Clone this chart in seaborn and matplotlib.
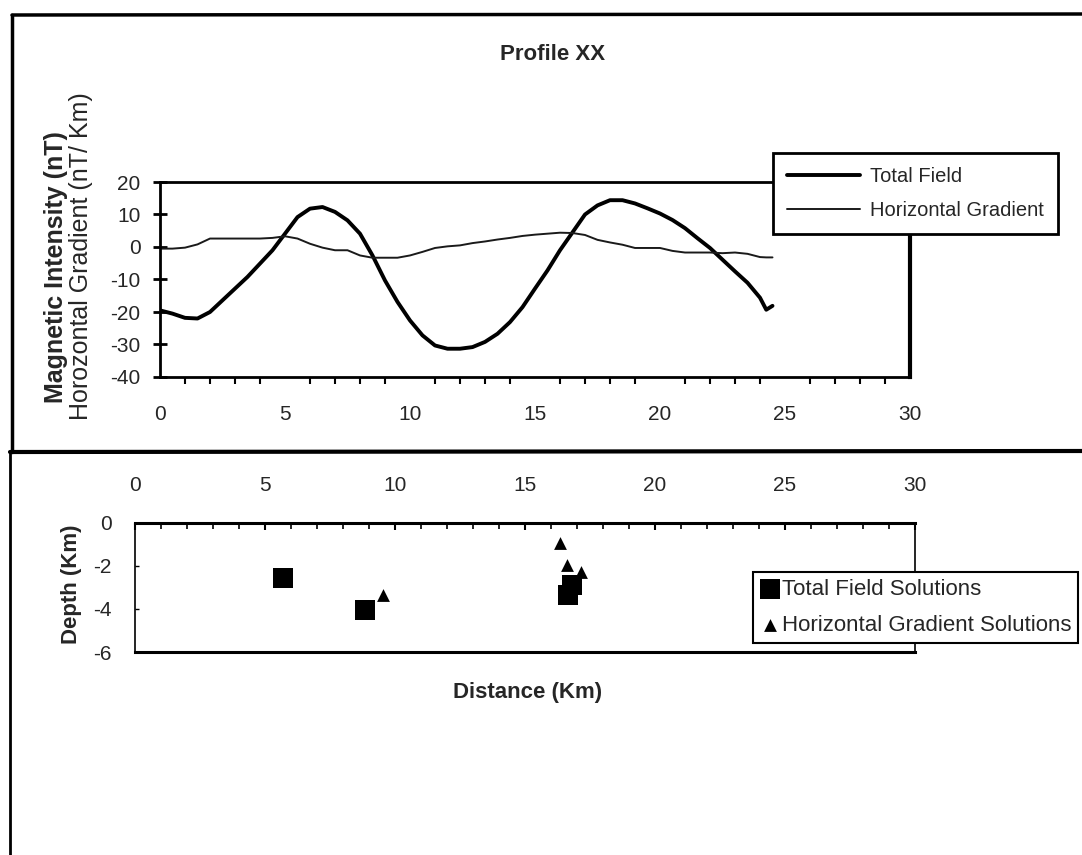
import numpy as np
import pandas as pd
import matplotlib
matplotlib.use("Agg")
import matplotlib.pyplot as plt
from matplotlib.lines import Line2D
from matplotlib.ticker import MultipleLocator
import seaborn as sns

# ---------------- data ----------------
distance = [0, 0.5, 1, 1.5, 2, 2.5, 3, 3.5, 4, 4.5, 5, 5.5, 6, 6.5, 7, 7.5, 8, 8.5,
            9, 9.5, 10, 10.5, 11, 11.5, 12, 12.5, 13, 13.5, 14, 14.5, 15, 15.5,
            16, 16.5, 17, 17.5, 18, 18.5, 19, 19.5, 20, 20.5, 21, 21.5, 22, 22.5,
            23, 23.5, 24, 24.25, 24.5]
total_field = [-19.5, -20.5, -21.8, -22.0, -20.0, -16.4, -12.8, -9.2, -5.1, -1.0,
               4.1, 9.2, 11.8, 12.3, 10.8, 8.2, 4.1, -2.6, -10.3, -16.9, -22.6,
               -27.2, -30.3, -31.3, -31.3, -30.8, -29.2, -26.7, -23.1, -18.5,
               -12.8, -7.2, -1.0, 4.5, 10.0, 12.8, 14.4, 14.4, 13.4, 11.9, 10.3,
               8.3, 5.8, 2.7, -0.3, -3.9, -7.5, -11.0, -15.6, -19.3, -18.1]
horiz_gradient = [-0.5, -0.5, -0.2, 0.8, 2.6, 2.6, 2.6, 2.6, 2.6, 2.8, 3.3, 2.6,
                  1.0, -0.2, -1.0, -1.0, -2.6, -3.3, -3.3, -3.3, -2.6, -1.5, -0.3,
                  0.2, 0.5, 1.2, 1.7, 2.3, 2.8, 3.4, 3.8, 4.1, 4.4, 4.3, 3.7, 2.2,
                  1.4, 0.7, -0.3, -0.3, -0.3, -1.2, -1.7, -1.7, -1.7, -1.9, -1.7,
                  -2.1, -3.1, -3.2, -3.2]

tf_sol_x = [5.7, 8.85, 16.65, 16.8]
tf_sol_depth = [-2.55, -4.05, -3.35, -2.9]
hg_sol_x = [9.55, 16.35, 16.6, 17.15]
hg_sol_depth = [-3.35, -0.95, -1.95, -2.3]

top_xticks = [0, 5, 10, 15, 20, 25, 30]
top_yticks = [-40, -30, -20, -10, 0, 10, 20]
bot_yticks = [-6, -4, -2, 0]

# ---------------- style ----------------
sns.set_theme(style="white")
plt.rcParams['font.family'] = ['Liberation Sans', 'DejaVu Sans']
plt.rcParams['axes.unicode_minus'] = False

W, H = 1082, 855
fig = plt.figure(figsize=(W / 100, H / 100), dpi=100)
fig.patch.set_facecolor("white")

def fx(px):
    return px / W

def fy(py):
    return 1 - py / H

# ---------------- top panel ----------------
ax1 = fig.add_axes([fx(160), fy(377), fx(910) - fx(160), fy(182) - fy(377)])
df_top = pd.DataFrame({"Distance": distance, "Total Field": total_field,
                       "Horizontal Gradient": horiz_gradient})
sns.lineplot(data=df_top, x="Distance", y="Total Field", ax=ax1, color="black",
             linewidth=2.8, label="Total Field", legend=False)
sns.lineplot(data=df_top, x="Distance", y="Horizontal Gradient", ax=ax1,
             color="#1a1a1a", linewidth=1.4, label="Horizontal Gradient", legend=False)
ax1.set_xlim(0, 30)
ax1.set_ylim(-40, 20)
ax1.set_xticks(top_xticks)
ax1.set_yticks(top_yticks)
ax1.xaxis.set_minor_locator(MultipleLocator(1))
ax1.tick_params(axis="x", which="major", direction="out", length=7, width=2,
                color="black", pad=13, labelsize=15)
ax1.tick_params(axis="x", which="minor", direction="out", length=5, width=1.5,
                color="black", bottom=True)
ax1.tick_params(axis="y", which="major", direction="inout", length=10, width=2,
                color="black", pad=9, labelsize=15, left=True)
for s in ax1.spines.values():
    s.set_color("black")
    s.set_linewidth(2)
ax1.spines["right"].set_linewidth(3)
ax1.set_xlabel("")
ax1.set_ylabel("")
ax1.set_facecolor("white")

fig.text(fx(553), fy(54), "Profile XX", ha="center", va="center",
         fontsize=16, fontweight="bold")
fig.text(fx(56), fy(267), "Magnetic Intensity (nT)", rotation=90, ha="center",
         va="center", fontsize=18, fontweight="bold")
fig.text(fx(81), fy(256), "Horozontal Gradient (nT/ Km)", rotation=90, ha="center",
         va="center", fontsize=18)

h1, l1 = ax1.get_legend_handles_labels()
leg1 = fig.legend(h1, l1, loc="upper left", bbox_to_anchor=(fx(773), fy(153)),
                  bbox_transform=fig.transFigure, fontsize=14.5, frameon=True,
                  fancybox=False, borderpad=0.7, labelspacing=0.75, handlelength=3.6,
                  handletextpad=0.5, borderaxespad=0)
leg1.get_frame().set_edgecolor("black")
leg1.get_frame().set_linewidth(2)
leg1.get_frame().set_alpha(1)

# ---------------- bottom panel ----------------
ax2 = fig.add_axes([fx(135), fy(652), fx(915) - fx(135), fy(522.7) - fy(652)])
df_tf = pd.DataFrame({"Distance": tf_sol_x, "Depth": tf_sol_depth})
df_hg = pd.DataFrame({"Distance": hg_sol_x, "Depth": hg_sol_depth})
sns.scatterplot(data=df_tf, x="Distance", y="Depth", ax=ax2, marker="s", s=220,
                color="black", linewidth=0, label="Total Field Solutions", legend=False)
sns.scatterplot(data=df_hg, x="Distance", y="Depth", ax=ax2, marker="^", s=85,
                color="black", linewidth=0, label="Horizontal Gradient Solutions",
                legend=False)
ax2.set_xlim(0, 30)
ax2.set_ylim(-6, 0)
ax2.set_xticks(top_xticks)
ax2.set_yticks(bot_yticks)
ax2.xaxis.set_minor_locator(MultipleLocator(1))
ax2.xaxis.tick_top()
ax2.tick_params(axis="x", which="major", direction="in", length=5, width=1.5,
                color="black", pad=20, labelsize=15, top=True, bottom=False)
ax2.tick_params(axis="x", which="minor", direction="in", length=4, width=1.2,
                color="black", top=True, bottom=False)
ax2.tick_params(axis="y", which="major", direction="in", length=3, width=1,
                color="black", pad=17, labelsize=15, left=True)
for s in ax2.spines.values():
    s.set_color("black")
    s.set_linewidth(1.2)
ax2.spines["top"].set_linewidth(2.2)
ax2.spines["bottom"].set_linewidth(2.2)
ax2.set_xlabel("")
ax2.set_ylabel("")
ax2.set_facecolor("white")

fig.text(fx(72), fy(584), "Depth (Km)", rotation=90, ha="center", va="center",
         fontsize=16, fontweight="bold")
fig.text(fx(528), fy(692), "Distance (Km)", ha="center", va="center",
         fontsize=16, fontweight="bold")

h2, l2 = ax2.get_legend_handles_labels()
leg2 = fig.legend(h2, l2, loc="upper left", bbox_to_anchor=(fx(753), fy(572)),
                  bbox_transform=fig.transFigure, fontsize=16, frameon=True,
                  fancybox=False, borderpad=0.3, labelspacing=0.7, handlelength=0.9,
                  handletextpad=0.1, borderaxespad=0, markerscale=1.0)
leg2.get_frame().set_edgecolor("black")
leg2.get_frame().set_linewidth(1.5)
leg2.get_frame().set_alpha(1)

# ---------------- scanned page frame lines ----------------
frame_kw = dict(color="black", transform=fig.transFigure)
fig.add_artist(Line2D([fx(12), fx(1082)], [fy(15), fy(14)], linewidth=2.5, **frame_kw))
fig.add_artist(Line2D([fx(12), fx(12)], [fy(15), fy(452)], linewidth=2.5, **frame_kw))
fig.add_artist(Line2D([fx(10), fx(1082)], [fy(452), fy(451)], linewidth=3, **frame_kw))
fig.add_artist(Line2D([fx(10), fx(10)], [fy(452), fy(855)], linewidth=2, **frame_kw))

fig.savefig("out.png", dpi=100, facecolor="white")
